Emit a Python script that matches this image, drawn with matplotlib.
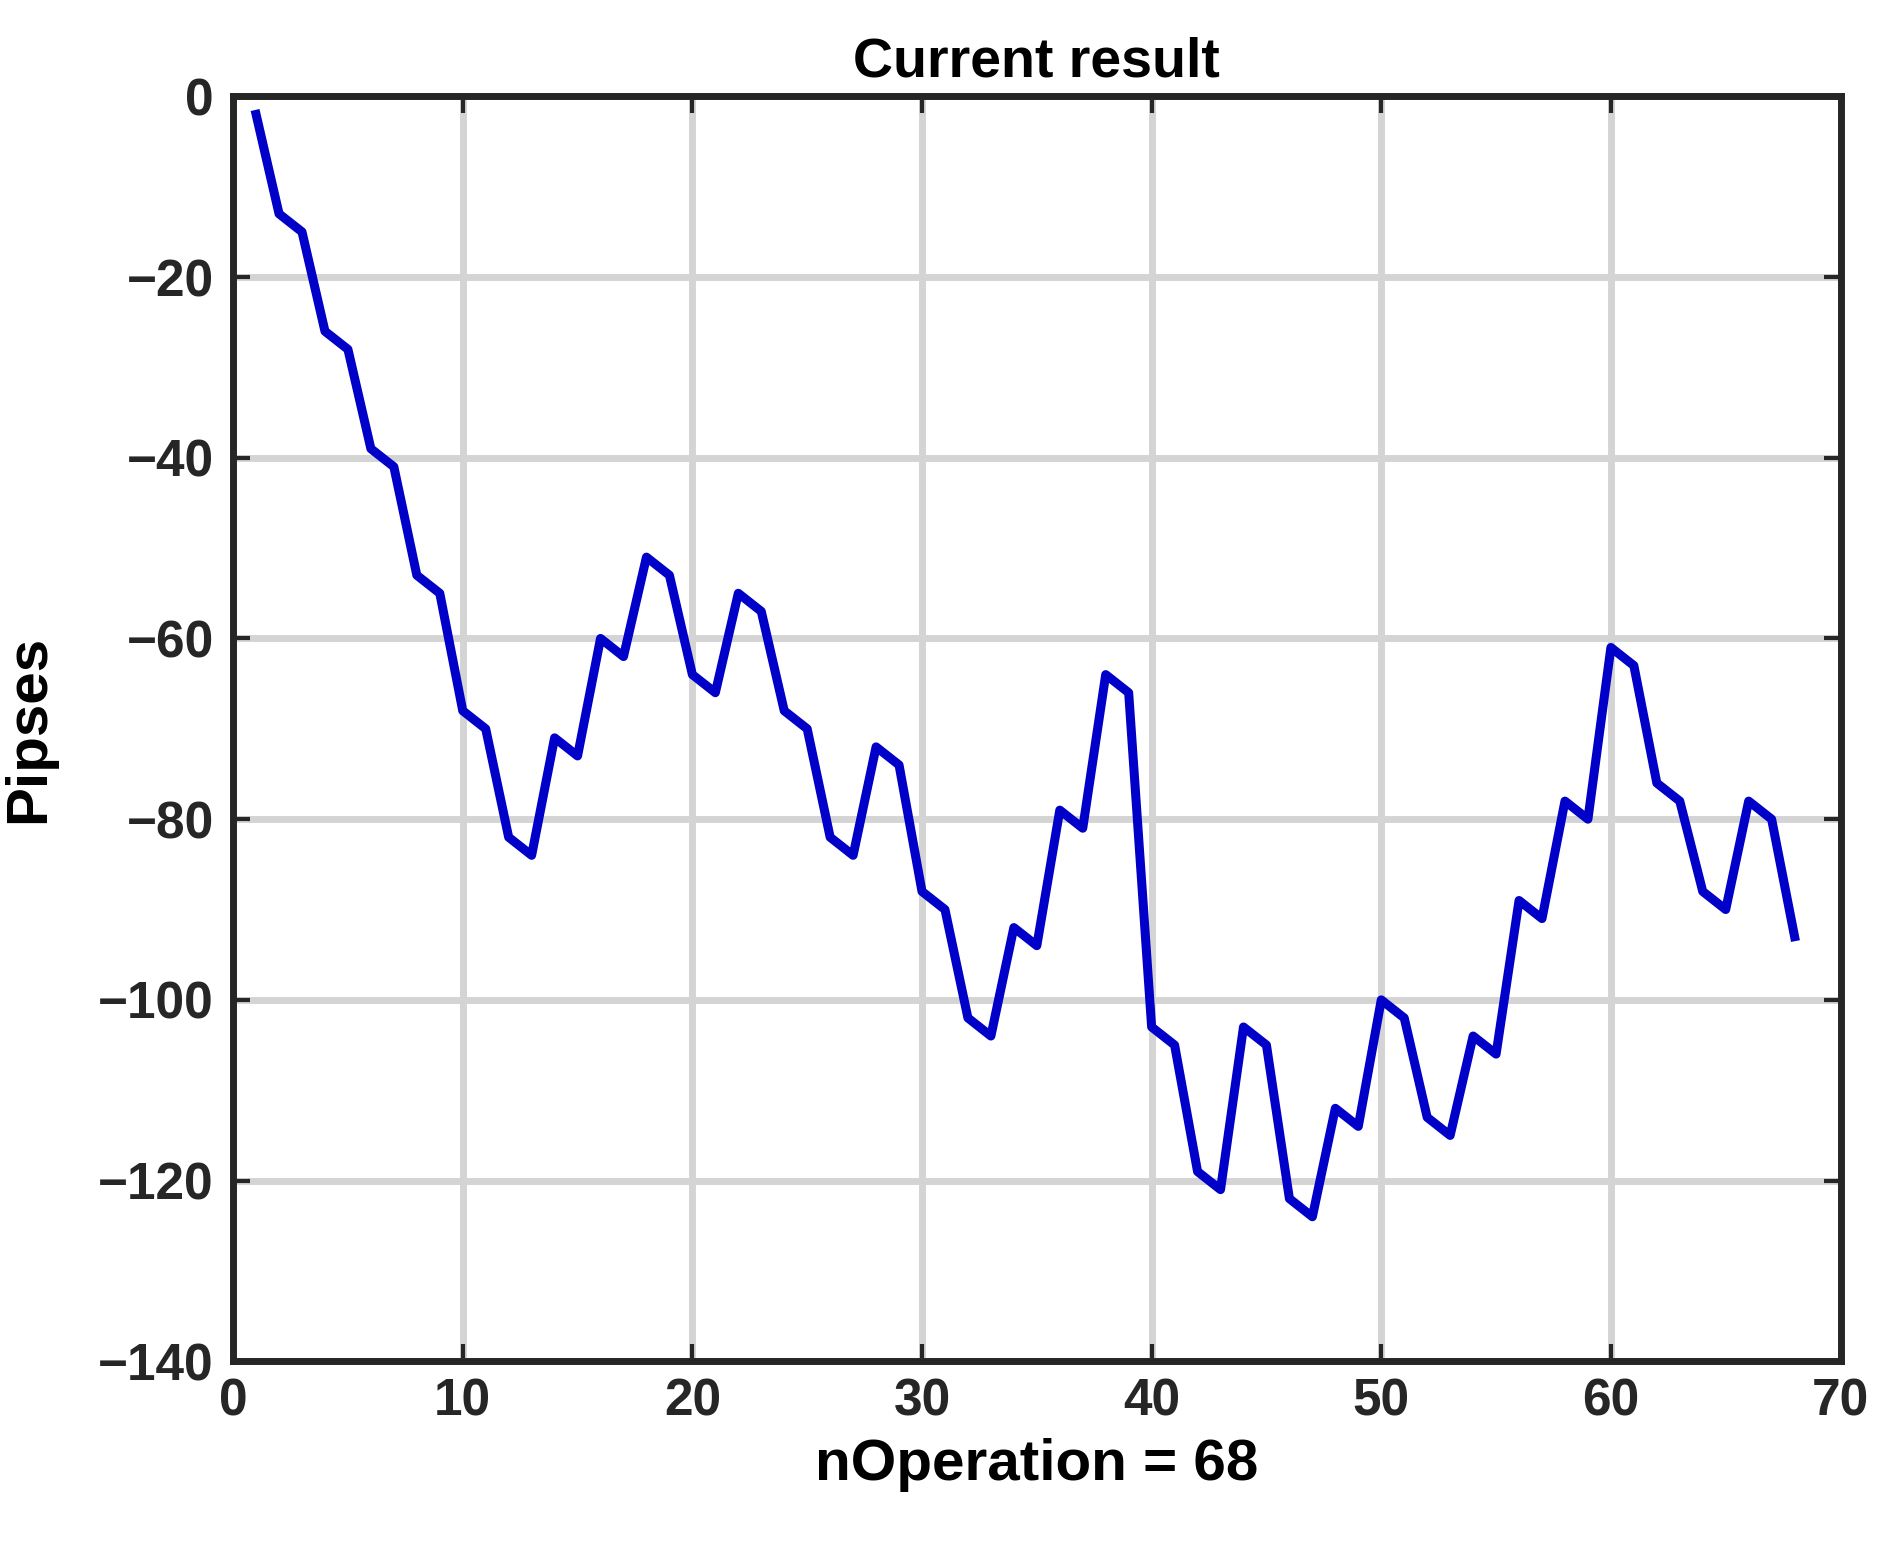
import matplotlib
matplotlib.use("Agg")
import matplotlib.pyplot as plt

# 데이터
n_op = list(range(1, 69))
pips = [-2, -13, -15, -26, -28, -39, -41, -53, -55, -68,
        -70, -82, -84, -71, -73, -60, -62, -51, -53, -64,
        -66, -55, -57, -68, -70, -82, -84, -72, -74, -88,
        -90, -102, -104, -92, -94, -79, -81, -64, -66, -103,
        -105, -119, -121, -103, -105, -122, -124, -112, -114, -100,
        -102, -113, -115, -104, -106, -89, -91, -78, -80, -61,
        -63, -76, -78, -88, -90, -78, -80, -93]

plt.rcParams["font.family"] = ["Liberation Sans", "DejaVu Sans"]
plt.rcParams["font.weight"] = "bold"

fig = plt.figure(figsize=(18.8, 15.54), dpi=100)
ax = fig.add_axes([0.124, 0.124, 0.855, 0.814])

ax.plot(n_op, pips, color="#0000c8", lw=6.5)
ax.set_xlim(0, 70)
ax.set_ylim(-140, 0)
ax.set_xticks(range(0, 71, 10))
ax.set_yticks(range(-140, 1, 20))
ax.grid(color="#d4d4d4", lw=5)
ax.set_axisbelow(True)
for s in ax.spines.values():
    s.set_linewidth(5)
    s.set_color("#262626")
ax.tick_params(labelsize=37, width=3, length=12, direction="in",
               top=True, right=True, pad=12, colors="#262626")
ax.tick_params(axis="y", pad=14)
for lab in ax.get_xticklabels() + ax.get_yticklabels():
    lab.set_fontweight("bold")

ax.set_xlabel("nOperation = 68", fontsize=42, fontweight="bold", labelpad=8)
ax.set_ylabel("Pipses", fontsize=42, fontweight="bold", labelpad=30)
ax.set_title("Current result", fontsize=40, fontweight="bold", pad=14)

fig.savefig("out.png", dpi=100)
